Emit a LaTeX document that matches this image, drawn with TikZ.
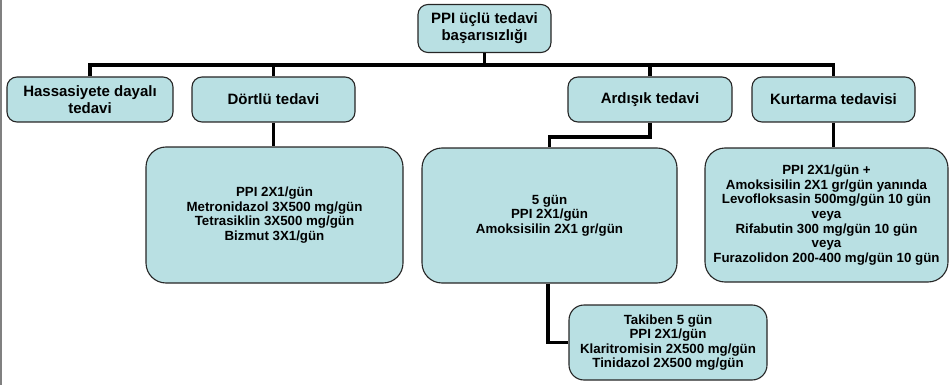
\documentclass[tikz,border=0pt]{standalone}
\usepackage{fontspec}
\setmainfont{Liberation Sans}
\begin{document}
\begin{tikzpicture}[x=1pt,y=-1pt,
  box/.style={draw=black!85,line width=1.1pt,fill=boxfill,align=center,inner sep=0pt,rounded corners=10pt},
  headbox/.style={box,font=\bfseries\fontsize{15}{17}\selectfont},
  detbox/.style={box,rounded corners=20pt,font=\bfseries\fontsize{13.3}{14.6}\selectfont},
  conn/.style={line width=3.3pt,black}]
\definecolor{boxfill}{RGB}{185,224,227}
\useasboundingbox (0,0) rectangle (950,385);
\draw[gray,line width=2pt] (1,0) -- (1,385);
% header boxes
\node[headbox,minimum width=133pt,minimum height=48pt] (root) at (484.5,28.5) {PPI üçlü tedavi\\başarısızlığı};
\node[headbox,minimum width=166pt,minimum height=45pt] (hass) at (90,99.5) {Hassasiyete dayalı\\tedavi};
\node[headbox,minimum width=163pt,minimum height=45pt] (dort) at (273.5,99.5) {Dörtlü tedavi};
\node[headbox,minimum width=164pt,minimum height=45pt] (ard) at (650,99.5) {Ardışık tedavi};
\node[headbox,minimum width=163pt,minimum height=45pt] (kurt) at (833.5,99.5) {Kurtarma tedavisi};
% detail boxes
\node[detbox,minimum width=257pt,minimum height=136pt] (dortd) at (274.5,215) {PPI 2X1/gün\\Metronidazol 3X500 mg/gün\\Tetrasiklin 3X500 mg/gün\\Bizmut 3X1/gün};
\node[detbox,minimum width=255pt,minimum height=135pt] (ardd) at (549.5,215.5) {5 gün\\PPI 2X1/gün\\Amoksisilin 2X1 gr/gün};
\node[detbox,minimum width=243pt,minimum height=134pt] (kurtd) at (826.5,215) {PPI 2X1/gün +\\Amoksisilin 2X1 gr/gün yanında\\Levofloksasin 500mg/gün 10 gün\\veya\\Rifabutin 300 mg/gün 10 gün\\veya\\Furazolidon 200-400 mg/gün 10 gün};
\node[detbox,rounded corners=15pt,minimum width=198pt,minimum height=75pt] (tak) at (668,342.5) {Takiben 5 gün\\PPI 2X1/gün\\Klaritromisin 2X500 mg/gün\\Tinidazol 2X500 mg/gün};
% connectors
\coordinate (bus) at (0,65);
\draw[conn] (root.south) -- (root.south |- bus);
\draw[conn] (hass.north) -- (hass.north |- bus) -| (kurt.north);
\draw[conn] (dort.north) -- (dort.north |- bus);
\draw[conn] (ard.north) -- (ard.north |- bus);
\draw[conn] (dort.south) -- (dortd.north -| dort.south);
\draw[conn] (kurt.south) -- (kurtd.north -| kurt.south);
\coordinate (elb) at (0,137);
\draw[conn] (ard.south) -- (ard.south |- elb) -| (ardd.north);
\draw[conn] (ardd.south -| 548,0) |- (tak.west);
\end{tikzpicture}
\end{document}
